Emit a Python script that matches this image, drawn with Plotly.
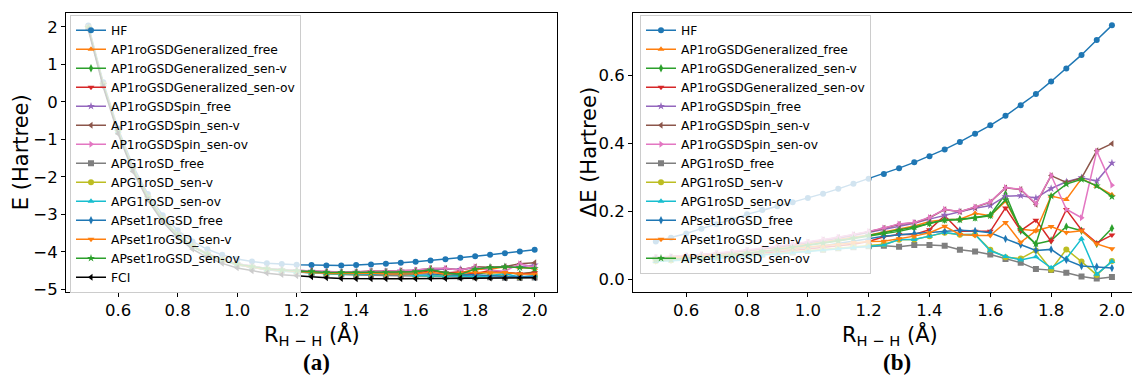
import plotly.graph_objects as go

# Bond length grid (Å)
R = [0.50, 0.55, 0.60, 0.65, 0.70, 0.75, 0.80, 0.85, 0.90, 0.95, 1.00,
     1.05, 1.10, 1.15, 1.20, 1.25, 1.30, 1.35, 1.40, 1.45, 1.50, 1.55,
     1.60, 1.65, 1.70, 1.75, 1.80, 1.85, 1.90, 1.95, 2.00]

# Exact (FCI) total energy, Hartree
E_FCI = [1.92, 0.40, -0.85, -1.86, -2.62, -3.20, -3.62, -3.93, -4.15, -4.31, -4.43,
         -4.51, -4.57, -4.61, -4.64, -4.665, -4.695, -4.71, -4.718, -4.721, -4.722, -4.72,
         -4.717, -4.714, -4.71, -4.707, -4.704, -4.701, -4.698, -4.695, -4.692]

# Energy errors relative to FCI, Hartree
dE_HF = [0.112, 0.123, 0.136, 0.150, 0.163, 0.177, 0.192, 0.205, 0.216, 0.228, 0.240,
         0.253, 0.267, 0.282, 0.297, 0.311, 0.328, 0.345, 0.363, 0.383, 0.405, 0.429,
         0.454, 0.482, 0.513, 0.546, 0.583, 0.621, 0.661, 0.705, 0.748]
dE_gen_free = [0.066, 0.068, 0.070, 0.073, 0.076, 0.080, 0.084, 0.089, 0.094, 0.099, 0.105,
               0.111, 0.117, 0.124, 0.131, 0.140, 0.150, 0.158, 0.171, 0.176, 0.178, 0.195,
               0.188, 0.230, 0.148, 0.144, 0.246, 0.236, 0.297, 0.275, 0.250]
dE_gen_senv = [0.056, 0.058, 0.061, 0.064, 0.068, 0.072, 0.077, 0.082, 0.088, 0.094, 0.100,
               0.107, 0.114, 0.121, 0.128, 0.136, 0.142, 0.152, 0.166, 0.176, 0.178, 0.183,
               0.190, 0.252, 0.144, 0.105, 0.115, 0.156, 0.144, 0.105, 0.151]
dE_gen_senov = [0.058, 0.060, 0.062, 0.065, 0.068, 0.071, 0.074, 0.078, 0.082, 0.086, 0.090,
                0.094, 0.099, 0.104, 0.112, 0.126, 0.133, 0.133, 0.147, 0.188, 0.142, 0.142,
                0.142, 0.211, 0.144, 0.175, 0.113, 0.206, 0.146, 0.108, 0.131]
dE_spin_free = [0.064, 0.066, 0.069, 0.072, 0.076, 0.080, 0.085, 0.090, 0.096, 0.102, 0.108,
                0.115, 0.122, 0.130, 0.139, 0.149, 0.158, 0.166, 0.178, 0.190, 0.200, 0.210,
                0.218, 0.245, 0.247, 0.240, 0.268, 0.288, 0.300, 0.290, 0.343]
dE_spin_senv = [0.065, 0.067, 0.070, 0.073, 0.077, 0.081, 0.086, 0.091, 0.097, 0.103, 0.110,
                0.117, 0.124, 0.132, 0.141, 0.151, 0.163, 0.167, 0.182, 0.206, 0.200, 0.213,
                0.228, 0.270, 0.265, 0.222, 0.306, 0.286, 0.299, 0.379, 0.400]
dE_spin_senov = [0.066, 0.068, 0.071, 0.074, 0.078, 0.082, 0.087, 0.092, 0.098, 0.104, 0.111,
                 0.118, 0.125, 0.133, 0.142, 0.152, 0.164, 0.168, 0.183, 0.207, 0.200, 0.214,
                 0.229, 0.271, 0.266, 0.223, 0.307, 0.207, 0.182, 0.378, 0.278]
dE_apg_free = [0.058, 0.060, 0.062, 0.064, 0.066, 0.068, 0.071, 0.074, 0.077, 0.080, 0.084,
               0.088, 0.092, 0.095, 0.098, 0.100, 0.097, 0.102, 0.102, 0.100, 0.088, 0.083,
               0.074, 0.061, 0.050, 0.031, 0.028, 0.020, 0.009, 0.003, 0.008]
dE_apg_senv = [0.055, 0.057, 0.059, 0.061, 0.064, 0.067, 0.070, 0.073, 0.077, 0.081, 0.085,
               0.089, 0.093, 0.097, 0.100, 0.104, 0.117, 0.118, 0.128, 0.138, 0.132, 0.133,
               0.088, 0.066, 0.062, 0.086, 0.029, 0.089, 0.053, 0.014, 0.055]
dE_apg_senov = [0.053, 0.056, 0.058, 0.060, 0.062, 0.065, 0.068, 0.071, 0.075, 0.079, 0.083,
                0.087, 0.091, 0.094, 0.097, 0.102, 0.118, 0.118, 0.128, 0.139, 0.133, 0.133,
                0.085, 0.068, 0.058, 0.067, 0.035, 0.062, 0.120, 0.016, 0.053]
dE_set_free = [0.060, 0.062, 0.064, 0.067, 0.070, 0.073, 0.077, 0.081, 0.085, 0.090, 0.095,
               0.100, 0.106, 0.112, 0.120, 0.128, 0.133, 0.136, 0.139, 0.142, 0.145, 0.143,
               0.138, 0.120, 0.103, 0.086, 0.089, 0.058, 0.040, 0.038, 0.034]
dE_set_senv = [0.062, 0.064, 0.066, 0.069, 0.072, 0.075, 0.079, 0.083, 0.087, 0.091, 0.095,
               0.099, 0.104, 0.109, 0.112, 0.113, 0.120, 0.128, 0.138, 0.157, 0.133, 0.130,
               0.130, 0.168, 0.110, 0.144, 0.156, 0.139, 0.144, 0.105, 0.091]
dE_set_senov = [0.057, 0.059, 0.062, 0.065, 0.069, 0.073, 0.078, 0.083, 0.089, 0.095, 0.101,
                0.108, 0.115, 0.122, 0.130, 0.137, 0.146, 0.155, 0.165, 0.175, 0.176, 0.181,
                0.188, 0.235, 0.148, 0.105, 0.246, 0.281, 0.295, 0.276, 0.244]

methods = [
    ("HF", dE_HF, "#1f77b4", "circle"),
    ("AP1roGSDGeneralized_free", dE_gen_free, "#ff7f0e", "triangle-up"),
    ("AP1roGSDGeneralized_sen-v", dE_gen_senv, "#2ca02c", "diamond-tall"),
    ("AP1roGSDGeneralized_sen-ov", dE_gen_senov, "#d62728", "triangle-down"),
    ("AP1roGSDSpin_free", dE_spin_free, "#9467bd", "star"),
    ("AP1roGSDSpin_sen-v", dE_spin_senv, "#8c564b", "triangle-left"),
    ("AP1roGSDSpin_sen-ov", dE_spin_senov, "#e377c2", "triangle-right"),
    ("APG1roSD_free", dE_apg_free, "#7f7f7f", "square"),
    ("APG1roSD_sen-v", dE_apg_senv, "#bcbd22", "circle"),
    ("APG1roSD_sen-ov", dE_apg_senov, "#17becf", "triangle-up"),
    ("APset1roGSD_free", dE_set_free, "#1f77b4", "diamond-tall"),
    ("APset1roGSD_sen-v", dE_set_senv, "#ff7f0e", "triangle-down"),
    ("APset1roGSD_sen-ov", dE_set_senov, "#2ca02c", "star"),
]

W, H = 1132, 381
FONT = "DejaVu Sans"


def px_x(x):
    return x / W


def px_y(y):
    return 1 - y / H


fig = go.Figure()

# Panel (a): total energies
for name, de, color, sym in methods:
    fig.add_trace(go.Scatter(
        x=R, y=[f + d for f, d in zip(E_FCI, de)], name=name, mode="lines+markers",
        line=dict(color=color, width=1.5), marker=dict(symbol=sym, size=6, color=color),
        xaxis="x", yaxis="y", legend="legend"))
fig.add_trace(go.Scatter(
    x=R, y=E_FCI, name="FCI", mode="lines+markers",
    line=dict(color="black", width=1.5), marker=dict(symbol="triangle-left", size=6, color="black"),
    xaxis="x", yaxis="y", legend="legend"))

# Panel (b): errors with respect to FCI
for name, de, color, sym in methods:
    fig.add_trace(go.Scatter(
        x=R, y=de, name=name, mode="lines+markers",
        line=dict(color=color, width=1.5), marker=dict(symbol=sym, size=6, color=color),
        xaxis="x2", yaxis="y2", legend="legend2"))

axis_common = dict(showline=True, linecolor="black", linewidth=1, ticks="outside",
                   ticklen=4, tickcolor="black", showgrid=False, zeroline=False,
                   tickfont=dict(family=FONT, size=16.5, color="black"))

legend_common = dict(xanchor="left", yanchor="top", bgcolor="rgba(255,255,255,0.8)",
                     bordercolor="#cccccc", borderwidth=1, tracegroupgap=0,
                     font=dict(family=FONT, size=12.3, color="black"))

R_TICKS = [0.6, 0.8, 1.0, 1.2, 1.4, 1.6, 1.8, 2.0]

fig.update_layout(
    width=W, height=H, margin=dict(l=0, r=0, t=0, b=0),
    paper_bgcolor="white", plot_bgcolor="white",
    xaxis=dict(domain=[px_x(66), px_x(557)], range=[0.425, 2.075], tickvals=R_TICKS,
               tickformat=".1f", mirror=True, anchor="y", **axis_common),
    yaxis=dict(domain=[px_y(297), px_y(13)], range=[-5.06, 2.373], dtick=1, mirror=True,
               anchor="x", **axis_common),
    xaxis2=dict(domain=[px_x(633), 1.0], range=[0.425, 2.066], tickvals=R_TICKS,
                tickformat=".1f", mirror=True, anchor="y2", **axis_common),
    yaxis2=dict(domain=[px_y(297), px_y(13)], range=[-0.035, 0.785], tickvals=[0.0, 0.2, 0.4, 0.6],
                tickformat=".1f", mirror=False, anchor="x2", **axis_common),
    legend=dict(x=px_x(70), y=px_y(15), **legend_common),
    legend2=dict(x=px_x(640), y=px_y(15), **legend_common),
    showlegend=True,
)

title_font = dict(family=FONT, size=21, color="black")
label_font = dict(family="Liberation Serif", size=23, color="black")
annotations = [
    dict(text="E (Hartree)", x=px_x(21), y=px_y(155), textangle=-90, font=title_font),
    dict(text="ΔE (Hartree)", x=px_x(589), y=px_y(155), textangle=-90, font=title_font),
    dict(text="R<sub>H − H</sub> (Å)", x=px_x(312), y=px_y(341), font=title_font),
    dict(text="R<sub>H − H</sub> (Å)", x=px_x(890), y=px_y(341), font=title_font),
    dict(text="<b>(a)</b>", x=px_x(316), y=px_y(369), font=label_font),
    dict(text="<b>(b)</b>", x=px_x(897), y=px_y(369), font=label_font),
]
for a in annotations:
    fig.add_annotation(xref="paper", yref="paper", showarrow=False,
                       xanchor="center", yanchor="middle", **a)

fig.write_html("out.html")
